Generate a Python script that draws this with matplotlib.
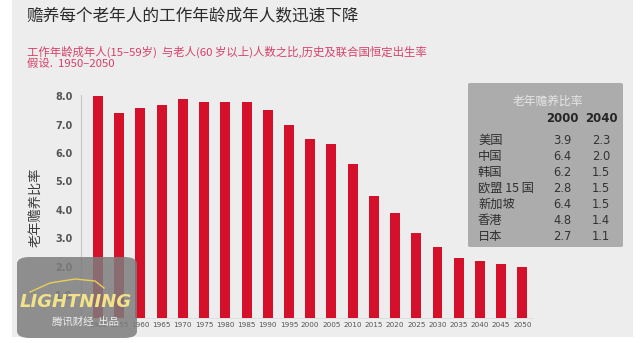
import matplotlib
matplotlib.use("Agg")
import matplotlib.pyplot as plt
from matplotlib.patches import Rectangle, FancyBboxPatch

plt.rcParams['font.family'] = ['Noto Sans CJK SC', 'DejaVu Sans']

years = ["1950", "1955", "1960", "1965", "1970", "1975", "1980", "1985", "1990", "1995", "2000",
         "2005", "2010", "2015", "2020", "2025", "2030", "2035", "2040", "2045", "2050"]
ratio = [8.0, 7.4, 7.6, 7.7, 7.9, 7.8, 7.8, 7.8, 7.5, 7.0, 6.5,
         6.3, 5.6, 4.5, 3.9, 3.2, 2.7, 2.3, 2.2, 2.1, 2.0]
y_ticks = [1.0, 2.0, 3.0, 4.0, 5.0, 6.0, 7.0, 8.0]

countries = ["美国", "中国", "韩国", "欧盟 15 国", "新加坡", "香港", "日本"]
ratio_2000 = [3.9, 6.4, 6.2, 2.8, 6.4, 4.8, 2.7]
ratio_2040 = [2.3, 2.0, 1.5, 1.5, 1.5, 1.4, 1.1]

W, H = 640, 343


def fx(px):
    return px / W


def fy(py):
    return 1 - py / H


fig = plt.figure(figsize=(6.4, 3.43), dpi=100, facecolor="white")
# light gray panel behind everything
fig.patches.append(Rectangle((fx(12), fy(337)), fx(633) - fx(12), 1 - fy(337) + 0.01,
                             transform=fig.transFigure, facecolor="#eeeded",
                             edgecolor="none", zorder=-5))

ax = fig.add_axes([fx(81), fy(318), fx(533) - fx(81), fy(95) - fy(318)])
ax.set_facecolor("none")
x = range(len(years))
ax.bar(x, ratio, width=0.47, color="#d5102a", zorder=2)
ax.set_xlim(-0.8, 20.5)
ax.set_ylim(0.2, 8.04)
ax.set_yticks(y_ticks)
ax.set_yticklabels([f"{v:.1f}" for v in y_ticks], fontsize=7, color="#555555",
                   fontweight="bold", family="DejaVu Sans")
ax.set_xticks(list(x))
ax.set_xticklabels(years, fontsize=5.2, color="#555555", family="DejaVu Sans")
ax.tick_params(length=0, pad=3)
ax.tick_params(axis="y", pad=6)
for s in ["top", "right"]:
    ax.spines[s].set_visible(False)
ax.spines["left"].set_color("#c8c8c8")
ax.spines["bottom"].set_color("#dddddd")
ax.spines["left"].set_linewidth(0.8)
ax.spines["bottom"].set_linewidth(0.6)

# titles
fig.text(fx(27), fy(17), "赡养每个老年人的工作年龄成年人数迅速下降", fontsize=12,
         color="#2b2b2b", va="center", ha="left")
fig.text(fx(27), fy(52), "工作年龄成年人(15–59岁)  与老人(60 岁以上)人数之比,历史及联合国恒定出生率",
         fontsize=8.2, color="#d6406a", va="center", ha="left")
fig.text(fx(27), fy(64), "假设.  1950–2050", fontsize=8.2, color="#d6406a",
         va="center", ha="left")
fig.text(fx(37), fy(207), "老年赡养比率", fontsize=9.5, color="#3a3a3a",
         rotation=90, va="center", ha="center")

# inset table
fig.patches.append(FancyBboxPatch((fx(468), fy(247)), fx(623) - fx(468), fy(83) - fy(247),
                                  boxstyle="round,pad=0,rounding_size=0.004",
                                  transform=fig.transFigure, facecolor="#acacac",
                                  edgecolor="none", zorder=3))
fig.text(fx(548), fy(101), "老年赡养比率", fontsize=8.5, color="#e6e6e6",
         ha="center", va="center", zorder=4)
fig.text(fx(562), fy(119), "2000", fontsize=8.5, color="#262626", fontweight="bold",
         ha="center", va="center", family="DejaVu Sans", zorder=4)
fig.text(fx(601), fy(119), "2040", fontsize=8.5, color="#262626", fontweight="bold",
         ha="center", va="center", family="DejaVu Sans", zorder=4)
for i, name in enumerate(countries):
    yy = fy(140 + i * 16.1)
    fig.text(fx(478), yy, name, fontsize=8.8, color="#2e2e2e", ha="left", va="center", zorder=4)
    fig.text(fx(562), yy, f"{ratio_2000[i]:.1f}", fontsize=8.3, color="#333333",
             ha="center", va="center", family="DejaVu Sans", zorder=4)
    fig.text(fx(601), yy, f"{ratio_2040[i]:.1f}", fontsize=8.3, color="#333333",
             ha="center", va="center", family="DejaVu Sans", zorder=4)

# logo badge in the lower left corner
fig.patches.append(FancyBboxPatch((fx(17), fy(338)), fx(137) - fx(17), fy(257) - fy(338),
                                  boxstyle="round,pad=0,rounding_size=0.02",
                                  transform=fig.transFigure, facecolor="#7d7d7d",
                                  edgecolor="none", alpha=0.85, zorder=5))
fig.text(fx(76), fy(302), "LIGHTNING", fontsize=13, color="#f3e28a", fontweight="bold",
         style="italic", ha="center", va="center", family="DejaVu Sans", zorder=6)
fig.text(fx(86), fy(322), "腾讯财经  出品", fontsize=7.5, color="#eeeeee",
         ha="center", va="center", zorder=6)
arc_x = [fx(30), fx(50), fx(75), fx(95), fx(104)]
arc_y = [fy(292), fy(283), fy(279), fy(281), fy(288)]
fig.lines.append(plt.Line2D(arc_x, arc_y, transform=fig.transFigure, color="#e8cf5a",
                            linewidth=1.0, zorder=6))

fig.savefig("out.png", dpi=100, facecolor=fig.get_facecolor())
